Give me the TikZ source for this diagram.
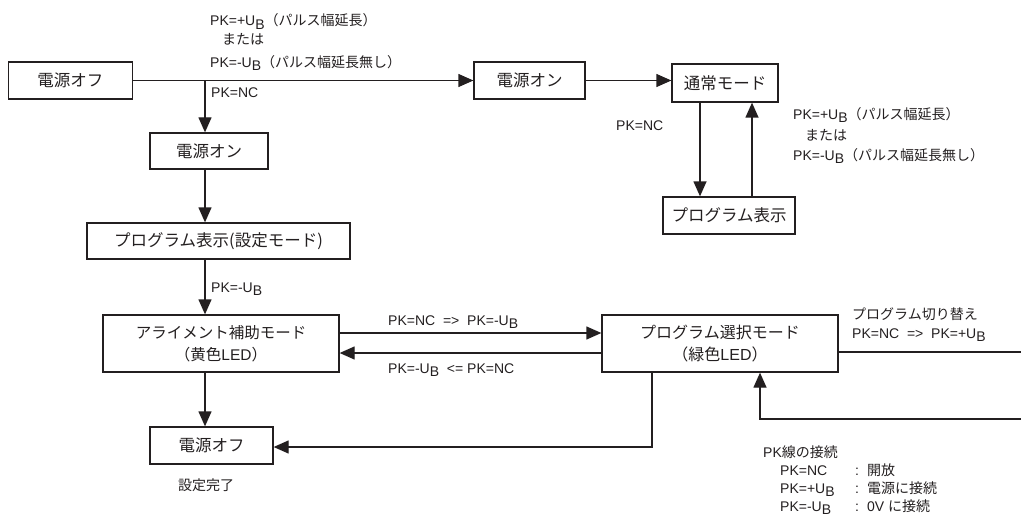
\documentclass[tikz,border=0pt]{standalone}
\usepackage{fontspec}
\setmainfont{Liberation Sans}
\newfontfamily\jp{Noto Sans CJK JP}
\newfontfamily\lat{Liberation Sans}
\usetikzlibrary{arrows.meta}
\definecolor{ink}{RGB}{35,31,32}
\newcommand{\UB}{U\raisebox{-3.5pt}{B}}
\begin{document}
\begin{tikzpicture}[x=1pt,y=-1pt,
  box/.style={draw=ink, line width=1.3pt, text=ink, inner sep=0pt, font=\jp\fontsize{16.5}{21}\selectfont, align=center},
  box2/.style={box, font=\jp\fontsize{16}{21.5}\selectfont},
  lbl/.style={text=ink, inner sep=0pt, anchor=base west, font=\fontsize{14}{17}\selectfont},
  conn/.style={draw=ink, line width=1.3pt},
  arr/.style={conn, -{Triangle[length=15pt,width=13pt]}}]
\useasboundingbox (0,0) rectangle (1021,527);
% boxes
\node[box, minimum width=124pt, minimum height=37pt] (off1) at (70.5,80.5) {電源オフ};
\node[box, minimum width=111pt, minimum height=37pt] (on2) at (529.5,80.5) {電源オン};
\node[box, minimum width=106pt, minimum height=38pt] (normal) at (725,83) {通常モード};
\node[box, minimum width=132pt, minimum height=37pt] (progdisp) at (729,215.5) {プログラム表示};
\node[box, minimum width=118pt, minimum height=36pt] (on1) at (209,151) {電源オン};
\node[box, minimum width=263pt, minimum height=36pt] (progset) at (218.5,241) {プログラム表示(設定モード)};
\node[box2, font=\jp\fontsize{15.5}{21.5}\selectfont, minimum width=236pt, minimum height=57pt] (align) at (221,343.5) {アライメント補助モード\\（黄色{\lat LED}）};
\node[box2, minimum width=236pt, minimum height=57pt] (progsel) at (720,343.5) {プログラム選択モード\\（緑色{\lat LED}）};
\node[box, minimum width=123pt, minimum height=37pt] (off2) at (211.5,445.5) {電源オフ};
% helper coordinates
\coordinate (xS) at (205,0);
\coordinate (xA) at (700,0);
\coordinate (xB) at (752,0);
\coordinate (xR) at (760,0);
\coordinate (xL) at (652,0);
\coordinate (j1) at (205,80.5);
\coordinate (yA) at (0,333);
\coordinate (yB) at (0,353);
\coordinate (yC) at (0,447);
\coordinate (r1) at (1021,352);
\coordinate (r2) at (1021,419);
% connectors
\draw[arr] (off1.east) -- (on2.west);
\draw[arr] (on2.east) -- (on2.east -| normal.west);
\draw[arr] (j1) -- (xS |- on1.north);
\draw[arr] (xS |- on1.south) -- (xS |- progset.north);
\draw[arr] (xS |- progset.south) -- (xS |- align.north);
\draw[arr] (xS |- align.south) -- (xS |- off2.north);
\draw[arr] (xA |- normal.south) -- (xA |- progdisp.north);
\draw[arr] (xB |- progdisp.north) -- (xB |- normal.south);
\draw[arr] (align.east |- yA) -- (progsel.west |- yA);
\draw[arr] (progsel.west |- yB) -- (align.east |- yB);
\draw[conn] (r1 -| progsel.east) -- (r1);
\draw[arr] (r2) -- (xR |- r2) -- (xR |- progsel.south);
\draw[arr] (xL |- progsel.south) -- (xL |- yC) -- (off2.east |- yC);
% labels
\node[lbl] (t1) at (210,26) {PK=+\UB{\jp （パルス幅延長）}};
\node[lbl] (t2) at (222,45) {\jp または};
\node[lbl] (t3) at (210,67) {PK=-\UB{\jp （パルス幅延長無し）}};
\node[lbl] (t4) at (211,98) {PK=NC};
\node[lbl] (r1a) at (793,119) {PK=+\UB{\jp （パルス幅延長）}};
\node[lbl] (r1b) at (805,140) {\jp または};
\node[lbl] (r1c) at (793,160) {PK=-\UB{\jp （パルス幅延長無し）}};
\node[lbl] (n1) at (616,130) {PK=NC};
\node[lbl] (m1) at (211,292) {PK=-\UB};
\node[lbl] (h1) at (388,325) {PK=NC\ \ =>\ \ PK=-\UB};
\node[lbl] (h2) at (388,373) {PK=-\UB\ \ <= PK=NC};
\node[lbl] (s1) at (852,319) {\jp プログラム切り替え};
\node[lbl] (s2) at (852,338) {PK=NC\ \ =>\ \ PK=+\UB};
\node[lbl] (done) at (178,490) {\jp 設定完了};
\node[lbl] (g0) at (763,457) {PK{\jp 線の接続}};
\node[lbl] (g1) at (780,475) {PK=NC};
\node[lbl] (g2) at (780,493) {PK=+\UB};
\node[lbl] (g3) at (780,511) {PK=-\UB};
\node[lbl] (c1) at (855,475) {:};
\node[lbl] (c2) at (855,493) {:};
\node[lbl] (c3) at (855,511) {:};
\node[lbl] (d1) at (867,475) {\jp 開放};
\node[lbl] (d2) at (867,493) {\jp 電源に接続};
\node[lbl] (d3) at (867,511) {0V {\jp に接続}};
\end{tikzpicture}
\end{document}
